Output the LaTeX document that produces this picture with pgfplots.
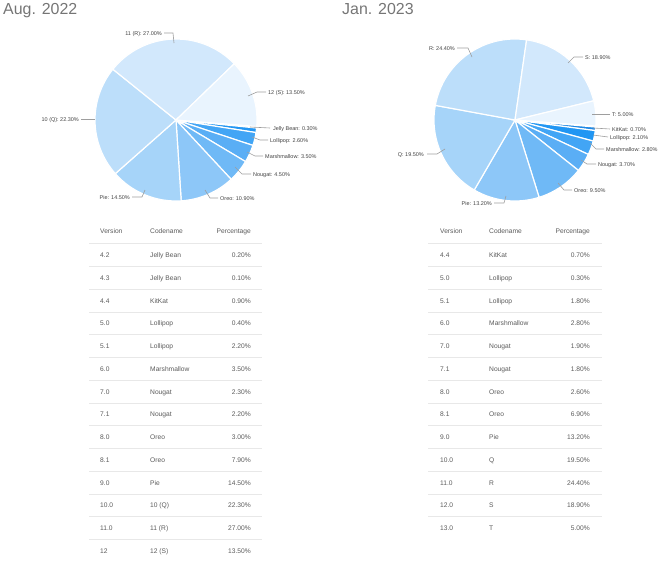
\documentclass[border=0pt]{standalone}
\usepackage{pgfplots}
\pgfplotsset{compat=1.18}
\usepackage{pgfplotstable}
\usepackage{fontspec}
\setmainfont{Liberation Sans}

\definecolor{titlegray}{HTML}{757575}
\definecolor{txt}{HTML}{5A5A5A}
\definecolor{lbl}{HTML}{424242}
\definecolor{lead}{HTML}{9E9E9E}
\definecolor{rulegray}{HTML}{E8E8E8}
\definecolor{b1}{HTML}{1E88E5}
\definecolor{b2}{HTML}{2196F3}
\definecolor{b3}{HTML}{42A5F5}
\definecolor{b4}{HTML}{5AAEF5}
\definecolor{b5}{HTML}{6FB9F6}
\definecolor{b6}{HTML}{8DC7F8}
\definecolor{b7}{HTML}{A6D4F9}
\definecolor{b8}{HTML}{BCDEFA}
\definecolor{b9}{HTML}{D2E8FC}
\definecolor{b10}{HTML}{E9F4FE}

% share of each codename, per month
\pgfplotstableread[col sep=comma]{
name,value,color
Jelly Bean,0.3,b1
KitKat,0.9,b2
Lollipop,2.6,b3
Marshmallow,3.5,b4
Nougat,4.5,b5
Oreo,10.9,b6
Pie,14.5,b7
10 (Q),22.3,b8
11 (R),27.0,b9
12 (S),13.5,b10
}\augdata

\pgfplotstableread[col sep=comma]{
name,value,color
KitKat,0.7,b1
Lollipop,2.1,b2
Marshmallow,2.8,b3
Nougat,3.7,b4
Oreo,9.5,b5
Pie,13.2,b6
Q,19.5,b7
R,24.4,b8
S,18.9,b9
T,5.0,b10
}\jandata

% #1 table, #2/#3 centre (px), #4 start angle; slices run clockwise
\newcommand\drawpie[4]{%
  \pgfplotstablegetrowsof{#1}%
  \pgfmathtruncatemacro\lastrow{\pgfplotsretval-1}%
  \pgfmathsetmacro\cum{#4}%
  \pgfplotsforeachungrouped \i in {0,...,\lastrow}{%
    \pgfplotstablegetelem{\i}{value}\of{#1}\let\val\pgfplotsretval
    \pgfplotstablegetelem{\i}{color}\of{#1}\let\col\pgfplotsretval
    \pgfmathsetmacro\nxt{\cum-3.6*\val}%
    \edef\tmp{\noexpand\addplot[fill=\col,draw=white,line width=1.2bp,no markers]
      coordinates {(#2,#3)} -- +(\cum:81bp)
      arc[start angle=\cum,end angle=\nxt,radius=81bp] -- cycle;}%
    \tmp
    \let\cum\nxt
  }%
}

\begin{document}
\begin{tikzpicture}
\useasboundingbox (0,0) rectangle (670bp,-562bp);
\begin{axis}[
  at={(0,0)}, anchor=north west,
  width=670bp, height=562bp, scale only axis,
  xmin=0, xmax=670, ymin=0, ymax=562, y dir=reverse,
  hide axis, clip=false,
]
\drawpie{\augdata}{176}{120}{-4.6}
\drawpie{\jandata}{515}{120}{-5.0}
\end{axis}

\begin{scope}[x=1bp,y=-1bp]
% titles
\node[anchor=base west,inner sep=0,text=titlegray,font=\fontsize{16}{18}\selectfont] at (3,14.7) {Aug. 2022};
\node[anchor=base west,inner sep=0,text=titlegray,font=\fontsize{16}{18}\selectfont] at (342,14.7) {Jan. 2023};

% slice labels, left
\begin{scope}[every node/.style={inner sep=0,text=lbl,font=\fontsize{5.5}{6}\selectfont},
              lead/.style={draw=lead,line width=0.6bp}]
\draw[lead] (164,33) -- (173,33) -- (174,43);
\node[anchor=mid east] at (162,33) {11 (R): 27.00\%};
\draw[lead] (248,96) -- (257,92) -- (266,92);
\node[anchor=mid west] at (268,92) {12 (S): 13.50\%};
\draw[lead] (250,127) -- (270,128);
\node[anchor=mid west] at (273,128) {Jelly Bean: 0.30\%};
\draw[lead] (252,137) -- (260,140) -- (268,140);
\node[anchor=mid west] at (270,140) {Lollipop: 2.60\%};
\draw[lead] (247,152) -- (255,156) -- (263,156);
\node[anchor=mid west] at (265,156) {Marshmallow: 3.50\%};
\draw[lead] (235,167) -- (242,174) -- (251,174);
\node[anchor=mid west] at (253,174) {Nougat: 4.50\%};
\draw[lead] (205,190) -- (210,198) -- (218,198);
\node[anchor=mid west] at (220,198) {Oreo: 10.90\%};
\draw[lead] (145,190) -- (142,197) -- (132,197);
\node[anchor=mid east] at (130,197) {Pie: 14.50\%};
\draw[lead] (81,119) -- (95,119);
\node[anchor=mid east] at (79,119) {10 (Q): 22.30\%};

% slice labels, right
\draw[lead] (457,48) -- (468,48) -- (472,57);
\node[anchor=mid east] at (455,48) {R: 24.40\%};
\draw[lead] (568,63) -- (574,57) -- (583,57);
\node[anchor=mid west] at (585,57) {S: 18.90\%};
\draw[lead] (592,114) -- (610,114);
\node[anchor=mid west] at (612,114) {T: 5.00\%};
\draw[lead] (593,128) -- (610,129);
\node[anchor=mid west] at (612,129) {KitKat: 0.70\%};
\draw[lead] (593,135) -- (608,137);
\node[anchor=mid west] at (610,137) {Lollipop: 2.10\%};
\draw[lead] (590,143) -- (596,149) -- (604,149);
\node[anchor=mid west] at (606,149) {Marshmallow: 2.80\%};
\draw[lead] (581,160) -- (587,164) -- (596,164);
\node[anchor=mid west] at (598,164) {Nougat: 3.70\%};
\draw[lead] (558,183) -- (564,190) -- (572,190);
\node[anchor=mid west] at (574,190) {Oreo: 9.50\%};
\draw[lead] (506,196) -- (504,203) -- (494,203);
\node[anchor=mid east] at (492,203) {Pie: 13.20\%};
\draw[lead] (445,149) -- (437,154) -- (427,154);
\node[anchor=mid east] at (424,154) {Q: 19.50\%};
\end{scope}

% tables
\begin{scope}[every node/.style={inner sep=0,text=txt,font=\fontsize{6.7}{8}\selectfont}]
\node[anchor=mid west] at (100,231) {Version};
\node[anchor=mid west] at (150,231) {Codename};
\node[anchor=mid east] at (251,231) {Percentage};
\draw[rulegray,line width=0.8bp] (89,243) -- (262,243);
\foreach \v/\n/\p [count=\k from 0] in {4.2/Jelly Bean/0.20,4.3/Jelly Bean/0.10,
    4.4/KitKat/0.90,5.0/Lollipop/0.40,5.1/Lollipop/2.20,6.0/Marshmallow/3.50,
    7.0/Nougat/2.30,7.1/Nougat/2.20,8.0/Oreo/3.00,8.1/Oreo/7.90,9.0/Pie/14.50,
    10.0/10 (Q)/22.30,11.0/11 (R)/27.00,12/12 (S)/13.50}{
  \node[anchor=mid west] at (100,255+22.75*\k) {\v};
  \node[anchor=mid west] at (150,255+22.75*\k) {\n};
  \node[anchor=mid east] at (251,255+22.75*\k) {\p\%};
  \ifnum\k<13 \draw[rulegray,line width=0.8bp] (89,266.5+22.75*\k) -- (262,266.5+22.75*\k);\fi
}

\node[anchor=mid west] at (440,231) {Version};
\node[anchor=mid west] at (489,231) {Codename};
\node[anchor=mid east] at (590,231) {Percentage};
\draw[rulegray,line width=0.8bp] (428,243) -- (602,243);
\foreach \v/\n/\p [count=\k from 0] in {4.4/KitKat/0.70,5.0/Lollipop/0.30,
    5.1/Lollipop/1.80,6.0/Marshmallow/2.80,7.0/Nougat/1.90,7.1/Nougat/1.80,
    8.0/Oreo/2.60,8.1/Oreo/6.90,9.0/Pie/13.20,10.0/Q/19.50,11.0/R/24.40,
    12.0/S/18.90,13.0/T/5.00}{
  \node[anchor=mid west] at (440,255+22.75*\k) {\v};
  \node[anchor=mid west] at (489,255+22.75*\k) {\n};
  \node[anchor=mid east] at (590,255+22.75*\k) {\p\%};
  \ifnum\k<12 \draw[rulegray,line width=0.8bp] (428,266.5+22.75*\k) -- (602,266.5+22.75*\k);\fi
}
\end{scope}
\end{scope}
\end{tikzpicture}
\end{document}
